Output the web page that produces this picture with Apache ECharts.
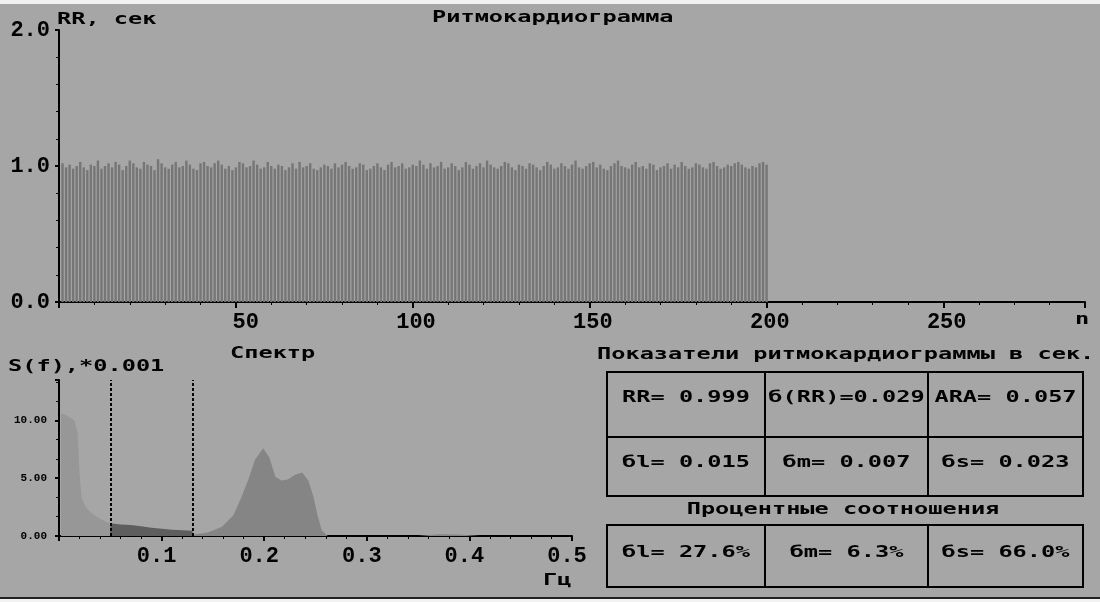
<!DOCTYPE html>
<html>
<head>
<meta charset="utf-8">
<script src="https://cdn.jsdelivr.net/npm/echarts@6/dist/echarts.min.js"></script>
<style>
html,body{margin:0;padding:0;background:#a6a6a6;}
#chart{width:1100px;height:602px;}
</style>
</head>
<body>
<div id="chart"></div>
<script>
// ---- Data ----
const rrValues = [
1.02,0.99,1.01,0.98,1.00,1.03,0.99,0.97,1.01,1.00,
1.04,0.98,1.00,1.02,0.99,1.03,1.01,0.97,1.00,1.04,
1.02,0.99,0.98,1.03,1.01,1.00,0.97,1.05,1.02,0.99,
0.98,1.01,1.03,0.99,1.00,1.04,1.01,0.98,0.97,1.02,
1.03,1.00,0.99,1.02,1.04,1.01,0.98,1.00,0.97,0.99,
1.03,1.02,0.99,1.00,1.04,1.01,0.98,0.99,1.03,1.00,
0.98,1.01,1.00,0.97,0.99,1.02,0.98,1.03,0.99,1.00,
1.02,0.98,0.97,0.99,1.01,1.00,0.98,1.02,0.99,1.01,
1.03,1.00,0.98,0.99,1.02,1.01,0.97,0.98,1.00,1.02,
0.99,0.97,1.01,1.03,0.99,1.00,1.02,0.98,0.99,1.01,
1.00,1.04,1.01,0.98,1.02,0.99,1.00,1.03,0.98,0.99,
1.02,1.00,0.97,0.99,1.03,1.01,0.98,1.00,1.02,0.99,
1.04,1.01,0.99,0.98,1.00,1.03,1.02,0.99,0.97,1.01,
1.00,0.98,1.02,1.01,0.99,0.97,1.00,1.03,1.01,0.98,
0.99,1.02,1.00,0.98,1.01,1.04,0.99,0.98,1.00,1.02,
1.03,0.99,1.01,0.98,0.97,1.00,1.02,1.04,1.00,0.99,
0.98,1.01,1.03,0.99,1.00,0.98,1.02,1.01,0.97,0.99,
1.00,1.02,0.98,1.01,0.99,1.03,1.00,0.98,0.99,1.02,
1.01,0.99,0.98,1.02,1.03,1.00,0.98,0.99,1.01,1.00,
1.02,1.03,1.01,0.99,0.98,1.00,0.99,1.02,1.03,1.01
];

// spectrum bands: [frequency (Hz), S(f) x0.001]
const vlfSpectrum = [[0.002,10.6],[0.006,10.5],[0.010,10.3],[0.015,10.0],[0.018,9.0],[0.020,5.5],[0.022,3.3],[0.026,2.5],[0.030,2.1],[0.036,1.7],[0.042,1.4],[0.048,1.15],[0.050,1.1]];
const lfSpectrum = [[0.050,1.1],[0.060,1.0],[0.070,0.95],[0.080,0.85],[0.090,0.72],[0.100,0.62],[0.110,0.55],[0.120,0.5],[0.130,0.45]];
const hfSpectrum = [[0.130,0.1],[0.145,0.3],[0.159,0.8],[0.170,1.8],[0.178,3.4],[0.185,5.0],[0.191,6.6],[0.199,7.6],[0.205,6.8],[0.211,5.1],[0.217,4.8],[0.223,4.9],[0.230,5.3],[0.237,5.5],[0.243,4.8],[0.248,3.4],[0.252,1.8],[0.256,0.5],[0.262,0.0],[0.350,0.0],[0.370,0.15],[0.390,0.12],[0.410,0.0],[0.500,0.0]];
const bandEdges = [0.05, 0.13];

// axis scales
const rrTicks = { min: 0, max: 2, interval: 1 };
const nTicks = { min: 0, max: 290, interval: 50 };
const sTicks = { min: 0, max: 13.5, interval: 5 };
const fTicks = { min: 0, max: 0.5, interval: 0.1 };

// table contents
const tableTitle = 'Показатели ритмокардиограммы в сек.';
const tableRow1 = ['RR= 0.999', 'б(RR)=0.029', 'ARA= 0.057'];
const tableRow2 = ['бl= 0.015', 'бm= 0.007', 'бs= 0.023'];
const percentTitle = 'Процентные соотношения';
const percentRow = ['бl= 27.6%', 'бm= 6.3%', 'бs= 66.0%'];

// ---- Chart ----
const FONT = 'Liberation Mono';
const BIG = 'bold 16px "DejaVu Sans Mono"';
const SX = 1.475;
const bg = '#a6a6a6';

function txt(text, x, y, align) {
  return {
    type: 'text', x: x, y: y, scaleX: SX, z: 50,
    style: { text: text, font: BIG, fill: '#000', align: align || 'left', verticalAlign: 'middle' }
  };
}
function rect(x, y, w, h, fill, stroke) {
  return { type: 'rect', z: 40, shape: { x: x, y: y, width: w, height: h },
    style: { fill: fill || 'none', stroke: stroke || 'none', lineWidth: 2 } };
}
function line(x1, y1, x2, y2) {
  return { type: 'line', z: 41, shape: { x1: x1, y1: y1, x2: x2, y2: y2 },
    style: { stroke: '#000', lineWidth: 2 } };
}

const colX = [686, 846.5, 1005.5];
const graphics = [
  rect(0, 0, 1100, 4, '#f2f2f2'),
  rect(0, 597, 1100, 2, '#222'),
  rect(0, 599, 1100, 3, '#f2f2f2'),
  txt('RR, сек', 57, 20),
  txt('Ритмокардиограмма', 432, 18),
  txt('n', 1075, 320),
  txt('Спектр', 230, 354),
  txt('S(f),*0.001', 8, 367),
  txt('Гц', 543, 581),
  txt(tableTitle, 597, 355),
  rect(607, 372, 476, 124, 'none', '#000'),
  line(607, 437, 1083, 437),
  line(765, 372, 765, 496),
  line(928, 372, 928, 496),
  txt(percentTitle, 843, 510, 'center'),
  rect(607, 525, 476, 62, 'none', '#000'),
  line(765, 525, 765, 587),
  line(928, 525, 928, 587)
];
for (let i = 0; i < 3; i++) {
  graphics.push(txt(tableRow1[i], colX[i], 398, 'center'));
  graphics.push(txt(tableRow2[i], colX[i], 463, 'center'));
  graphics.push(txt(percentRow[i], colX[i], 553, 'center'));
}

const axisLineStyle = { lineStyle: { color: '#000', width: 2 } };
const bigLabel = { fontFamily: FONT, fontWeight: 'bold', fontSize: 22, color: '#000' };

const option = {
  backgroundColor: bg,
  animation: false,
  grid: [
    { left: 59, top: 30, right: 15, bottom: 300 },
    { left: 59, top: 380, right: 528, bottom: 66 }
  ],
  xAxis: [
    {
      gridIndex: 0, type: 'value', min: nTicks.min, max: nTicks.max, interval: nTicks.interval,
      axisLine: axisLineStyle, splitLine: { show: false },
      axisTick: { show: true, length: 6, lineStyle: { color: '#000', width: 2 } },
      minorTick: { show: true, splitNumber: 5, length: 3, lineStyle: { color: '#000', width: 1 } },
      axisLabel: Object.assign({}, bigLabel, { showMinLabel: false, showMaxLabel: false, margin: 9,
        align: 'right', padding: [0, -23, 0, 0] })
    },
    {
      gridIndex: 1, type: 'value', min: fTicks.min, max: fTicks.max, interval: fTicks.interval,
      axisLine: axisLineStyle, splitLine: { show: false },
      axisTick: { show: true, length: 5, lineStyle: { color: '#000', width: 2 } },
      minorTick: { show: true, splitNumber: 5, length: 3, lineStyle: { color: '#000', width: 1 } },
      axisLabel: Object.assign({}, bigLabel, { showMinLabel: false, margin: 9,
        align: 'center', padding: [0, 10, 0, 0],
        formatter: function (v) { return v.toFixed(1); } })
    }
  ],
  yAxis: [
    {
      gridIndex: 0, type: 'value', min: rrTicks.min, max: rrTicks.max, interval: rrTicks.interval,
      axisLine: { show: true, lineStyle: { color: '#000', width: 2 } }, splitLine: { show: false },
      axisTick: { show: true, length: 4, lineStyle: { color: '#000', width: 2 } },
      minorTick: { show: true, splitNumber: 5, length: 3, lineStyle: { color: '#000', width: 1 } },
      axisLabel: Object.assign({}, bigLabel, { margin: 9,
        formatter: function (v) { return v.toFixed(1); } })
    },
    {
      gridIndex: 1, type: 'value', min: sTicks.min, max: sTicks.max, interval: sTicks.interval,
      axisLine: { show: true, lineStyle: { color: '#000', width: 2 } }, splitLine: { show: false },
      axisTick: { show: true, length: 4, lineStyle: { color: '#000', width: 2 } },
      minorTick: { show: true, splitNumber: 3, length: 3, lineStyle: { color: '#000', width: 1 } },
      axisLabel: { fontFamily: FONT, fontWeight: 'bold', fontSize: 11, color: '#000', margin: 12,
        showMaxLabel: false, formatter: function (v) { return v.toFixed(2); } }
    }
  ],
  series: [
    {
      type: 'bar', xAxisIndex: 0, yAxisIndex: 0, barWidth: 2.4,
      itemStyle: { color: '#767676' },
      data: rrValues.map(function (v, i) { return [i + 1, v]; })
    },
    {
      type: 'line', xAxisIndex: 1, yAxisIndex: 1, symbol: 'none', smooth: false,
      lineStyle: { width: 0 }, areaStyle: { color: '#979797', opacity: 1 },
      data: vlfSpectrum
    },
    {
      type: 'line', xAxisIndex: 1, yAxisIndex: 1, symbol: 'none', smooth: false,
      lineStyle: { width: 0 }, areaStyle: { color: '#5e5e5e', opacity: 1 },
      data: lfSpectrum
    },
    {
      type: 'line', xAxisIndex: 1, yAxisIndex: 1, symbol: 'none', smooth: false,
      lineStyle: { width: 0 }, areaStyle: { color: '#858585', opacity: 1 },
      data: hfSpectrum,
      markLine: {
        silent: true, symbol: 'none', label: { show: false },
        lineStyle: { color: '#000', type: [3, 2], width: 2 },
        data: bandEdges.map(function (f) { return { xAxis: f }; })
      }
    }
  ],
  graphic: graphics
};

const chart = echarts.init(document.getElementById('chart'), null, { renderer: 'canvas' });
chart.setOption(option);
</script>
</body>
</html>
